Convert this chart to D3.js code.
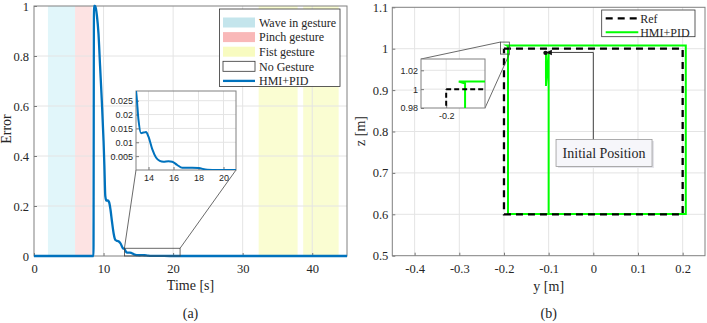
<!DOCTYPE html>
<html>
<head>
<meta charset="utf-8">
<script src="https://d3js.org/d3.v7.min.js"></script>
<style>
  body { margin: 0; background: #fff; }
  svg text { font-family: "Liberation Serif", "Times New Roman", serif; fill: #262626; }
  .tick text { font-size: 12.5px; }
  .inset .tick text { font-family: "Liberation Sans", Arial, sans-serif; font-size: 9px; }
  .tick line { stroke: #777; }
  .domain { display: none; }
</style>
</head>
<body>
<svg id="fig" width="707" height="323"></svg>
<script>
// panel (a) data: tracking error over time
const timeS = [0, 8.5, 8.55, 8.62, 8.75, 8.9, 9.05, 9.27, 9.5, 9.75, 10.0, 10.12, 10.25, 10.4, 10.6, 10.8, 11.0, 11.2, 11.45, 11.7, 12.0, 12.2, 12.45, 12.78, 13.0, 13.2, 13.4, 13.6, 13.8, 14.0, 14.3, 14.6, 14.9, 15.2, 15.6, 15.9, 16.3, 16.7, 17.5, 18.0, 18.7, 19.5, 45];
const errorHmi = [0, 0, 0, 1.0, 1.0, 0.99, 0.96, 0.89, 0.76, 0.62, 0.46, 0.36, 0.24, 0.222, 0.222, 0.215, 0.185, 0.14, 0.09, 0.064, 0.06, 0.058, 0.05, 0.031, 0.0285, 0.018, 0.0133, 0.0135, 0.0137, 0.012, 0.0075, 0.0045, 0.0033, 0.003, 0.0032, 0.003, 0.0018, 0.0008, 0.0008, 0.0007, 0.0001, 0, 0];
const waveSpans = [[2.0, 5.9]];
const pinchSpans = [[5.9, 8.3]];
const fistSpans = [[32.3, 37.9], [38.7, 43.8]];
const timeTicks = [0, 10, 20, 30, 40];
const errorTicks = [0, 0.2, 0.4, 0.6, 0.8, 1];
const zoomBoxA = { t: [13, 21], e: [0, 0.031] };
const insetTimeTicks = [14, 16, 18, 20];
const insetErrorTicks = [0.005, 0.01, 0.015, 0.02, 0.025];
const legendA = ["Wave in gesture", "Pinch gesture", "Fist gesture", "No Gesture", "HMI+PID"];

// panel (b) data: trajectory in the y-z plane
const refY = [-0.2, 0.2, 0.2, -0.2, -0.2];
const refZ = [1.0, 1.0, 0.6, 0.6, 1.0];
const hmiY = [-0.106, -0.106, -0.1, -0.1, 0.207, 0.207, -0.194, -0.191, -0.191, -0.1];
const hmiZ = [0.99, 0.91, 0.99, 0.601, 0.601, 1.008, 1.008, 1.006, 0.601, 0.601];
const yTicks = [-0.4, -0.3, -0.2, -0.1, 0, 0.1, 0.2];
const zTicks = [0.5, 0.6, 0.7, 0.8, 0.9, 1, 1.1];
const zoomBoxB = { y: [-0.208, -0.188], z: [0.987, 1.016] };
const insetZTicks = [0.98, 1, 1.02];
const insetYTicks = [-0.2];
const initPos = [-0.107, 0.99];
const arrowElbow = [0.0, 0.991];
const arrowTip = [-0.095, 0.991];
const labelCenter = [0.024, 0.747];
const legendB = ["Ref", "HMI+PID"];

const blue = "#0072BD", green = "#00FF00";
const svg = d3.select("#fig");
const fmt = d => String(+d.toFixed(3));

function gridAndBox(g, x, y, xt, yt) {
  const [x0, x1] = x.range(), [y0, y1] = y.range();
  g.append("g").selectAll("line").data(xt).join("line")
    .attr("x1", d => x(d)).attr("x2", d => x(d)).attr("y1", y0).attr("y2", y1)
    .attr("stroke", "#e4e4e4");
  g.append("g").selectAll("line").data(yt).join("line")
    .attr("y1", d => y(d)).attr("y2", d => y(d)).attr("x1", x0).attr("x2", x1)
    .attr("stroke", "#e4e4e4");
}
function axesFrame(g, x, y, xt, yt, pad) {
  const [x0, x1] = x.range(), [y0, y1] = y.range();
  g.append("g").attr("transform", `translate(0,${y0})`)
    .call(d3.axisBottom(x).tickValues(xt).tickFormat(fmt).tickSizeInner(-3).tickSizeOuter(0).tickPadding(pad[0]))
    .attr("font-family", null).attr("font-size", null);
  g.append("g").attr("transform", `translate(${x0},0)`)
    .call(d3.axisLeft(y).tickValues(yt).tickFormat(fmt).tickSizeInner(-3).tickSizeOuter(0).tickPadding(pad[1]))
    .attr("font-family", null).attr("font-size", null);
  g.append("rect").attr("x", x0).attr("y", y1).attr("width", x1 - x0).attr("height", y0 - y1)
    .attr("fill", "none").attr("stroke", "#808080").attr("stroke-width", 1);
}

// ---------------- panel (a) ----------------
const xA = d3.scaleLinear().domain([0, 45]).range([34, 347]);
const yA = d3.scaleLinear().domain([0, 1]).range([256, 6]);
const gA = svg.append("g");

const spanSets = [[waveSpans, "#c4e5ec", "#e1f6fa"], [pinchSpans, "#f9b8b8", "#fde3e3"], [fistSpans, "#f8fbc0", "#fafdd2"]];
spanSets.forEach(([spans, , fill]) => {
  gA.append("g").selectAll("rect").data(spans).join("rect")
    .attr("x", d => xA(d[0])).attr("width", d => xA(d[1]) - xA(d[0]))
    .attr("y", yA(1)).attr("height", yA(0) - yA(1)).attr("fill", fill);
});
gridAndBox(gA, xA, yA, timeTicks.slice(1), errorTicks.slice(1, -1));
axesFrame(gA, xA, yA, timeTicks, errorTicks, [8, 5]);

const series = timeS.map((t, i) => [t, errorHmi[i]]);
gA.append("path").datum(series)
  .attr("d", d3.line().x(d => xA(d[0])).y(d => yA(d[1])).curve(d3.curveMonotoneX))
  .attr("fill", "none").attr("stroke", blue).attr("stroke-width", 2.3);

// zoom box and connectors
const inA = { x: [136, 236], y: [170, 91] };
gA.append("rect").attr("x", xA(zoomBoxA.t[0])).attr("y", yA(zoomBoxA.e[1]))
  .attr("width", xA(zoomBoxA.t[1]) - xA(zoomBoxA.t[0])).attr("height", yA(zoomBoxA.e[0]) - yA(zoomBoxA.e[1]))
  .attr("fill", "none").attr("stroke", "#444").attr("stroke-width", 0.8);
[[zoomBoxA.t[0], inA.x[0]], [zoomBoxA.t[1], inA.x[1]]].forEach(([t, px]) => {
  gA.append("line").attr("x1", xA(t)).attr("y1", yA(zoomBoxA.e[1])).attr("x2", px).attr("y2", inA.y[0])
    .attr("stroke", "#444").attr("stroke-width", 0.8);
});

// inset (a)
const ixA = d3.scaleLinear().domain([13, 21]).range(inA.x);
const iyA = d3.scaleLinear().domain([0, 0.0285]).range(inA.y);
const giA = svg.append("g").attr("class", "inset");
giA.append("rect").attr("x", inA.x[0]).attr("y", inA.y[1]).attr("width", inA.x[1] - inA.x[0])
  .attr("height", inA.y[0] - inA.y[1]).attr("fill", "#fff");
gridAndBox(giA, ixA, iyA, insetTimeTicks, insetErrorTicks);
axesFrame(giA, ixA, iyA, insetTimeTicks, insetErrorTicks, [5, 3]);
giA.append("clipPath").attr("id", "clipA").append("rect")
  .attr("x", inA.x[0]).attr("y", inA.y[1]).attr("width", inA.x[1] - inA.x[0]).attr("height", inA.y[0] - inA.y[1]);
giA.append("path").datum(series.filter(d => d[0] >= 12.78 && d[0] <= 45))
  .attr("clip-path", "url(#clipA)")
  .attr("d", d3.line().x(d => ixA(d[0])).y(d => iyA(d[1])).curve(d3.curveMonotoneX))
  .attr("fill", "none").attr("stroke", blue).attr("stroke-width", 2);

// legend (a)
const lgA = svg.append("g").attr("transform", "translate(219.5,9)");
lgA.append("rect").attr("width", 120.5).attr("height", 77.5).attr("fill", "#fff").attr("stroke", "#333").attr("stroke-width", 0.8);
legendA.forEach((name, i) => {
  const cy = 13.5 + i * 14.6;
  if (i < 3) {
    lgA.append("rect").attr("x", 3.5).attr("y", cy - 5).attr("width", 32).attr("height", 10).attr("fill", spanSets[i][1]);
  } else if (i === 3) {
    lgA.append("rect").attr("x", 3.5).attr("y", cy - 5).attr("width", 32).attr("height", 10).attr("fill", "#fff").attr("stroke", "#333").attr("stroke-width", 0.8);
  } else {
    lgA.append("line").attr("x1", 3.5).attr("x2", 35.5).attr("y1", cy).attr("y2", cy).attr("stroke", blue).attr("stroke-width", 2.3);
  }
  lgA.append("text").attr("x", 39.5).attr("y", cy).attr("dy", "0.35em").attr("font-size", 12).text(name);
});

svg.append("text").attr("transform", "translate(11,129) rotate(-90)").attr("text-anchor", "middle").attr("font-size", 14).text("Error");
svg.append("text").attr("x", 190.5).attr("y", 290).attr("text-anchor", "middle").attr("font-size", 14).text("Time [s]");
svg.append("text").attr("x", 190.5).attr("y", 318).attr("text-anchor", "middle").attr("font-size", 14).text("(a)");

// ---------------- panel (b) ----------------
const xB = d3.scaleLinear().domain([-0.45, 0.25]).range([392.3, 705]);
const yB = d3.scaleLinear().domain([0.5, 1.1]).range([255.7, 7.3]);
const gB = svg.append("g");
gridAndBox(gB, xB, yB, yTicks, zTicks.slice(1, -1));
axesFrame(gB, xB, yB, yTicks, zTicks, [8, 4]);

const refPts = refY.map((v, i) => [v, refZ[i]]);
const hmiPts = hmiY.map((v, i) => [v, hmiZ[i]]);
const lineB = (x, y) => d3.line().x(d => x(d[0])).y(d => y(d[1]));
gB.append("path").datum(hmiPts).attr("d", lineB(xB, yB))
  .attr("fill", "none").attr("stroke", green).attr("stroke-width", 2);
gB.append("path").datum(refPts).attr("d", lineB(xB, yB))
  .attr("fill", "none").attr("stroke", "#000").attr("stroke-width", 2.3).attr("stroke-dasharray", "7,5");

// annotation: initial position
gB.append("circle").attr("cx", xB(initPos[0])).attr("cy", yB(initPos[1])).attr("r", 2.2).attr("fill", "#111");
gB.append("polyline")
  .attr("points", [[labelCenter[0] - 0.024, labelCenter[1]], arrowElbow, arrowTip].map(p => [xB(p[0]), yB(p[1])].join(",")).join(" "))
  .attr("fill", "none").attr("stroke", "#444").attr("stroke-width", 1);
const tx = xB(arrowTip[0]), ty = yB(arrowTip[1]);
gB.append("path").attr("d", `M${tx - 5},${ty}L${tx + 1},${ty - 2.8}L${tx + 1},${ty + 2.8}Z`).attr("fill", "#111");
const lcx = xB(labelCenter[0]), lcy = yB(labelCenter[1]);
gB.append("rect").attr("x", lcx - 46).attr("y", lcy - 12.5).attr("width", 96).attr("height", 27).attr("fill", "#e4e4ea");
gB.append("rect").attr("x", lcx - 48).attr("y", lcy - 14).attr("width", 96).attr("height", 27)
  .attr("fill", "#f6f6fa").attr("stroke", "#9a9a9a").attr("stroke-width", 0.8);
gB.append("text").attr("x", lcx).attr("y", lcy).attr("dy", "0.35em").attr("text-anchor", "middle").attr("font-size", 14).text("Initial Position");

// zoom box (b) and connectors
const inB = { x: [421, 485], y: [108, 59] };
const bx0 = xB(zoomBoxB.y[0]), bx1 = xB(zoomBoxB.y[1]), by0 = yB(zoomBoxB.z[1]), by1 = yB(zoomBoxB.z[0]);
gB.append("rect").attr("x", bx0).attr("y", by0).attr("width", bx1 - bx0).attr("height", by1 - by0)
  .attr("fill", "none").attr("stroke", "#444").attr("stroke-width", 0.8);
gB.append("line").attr("x1", bx0).attr("y1", by0).attr("x2", inB.x[0]).attr("y2", inB.y[1]).attr("stroke", "#444").attr("stroke-width", 0.8);
gB.append("line").attr("x1", bx1).attr("y1", by1).attr("x2", inB.x[1]).attr("y2", inB.y[0]).attr("stroke", "#444").attr("stroke-width", 0.8);

// inset (b)
const ixB = d3.scaleLinear().domain([-0.212, -0.1815]).range(inB.x);
const iyB = d3.scaleLinear().domain([0.98, 1.032]).range(inB.y);
const giB = svg.append("g").attr("class", "inset");
giB.append("rect").attr("x", inB.x[0]).attr("y", inB.y[1]).attr("width", inB.x[1] - inB.x[0])
  .attr("height", inB.y[0] - inB.y[1]).attr("fill", "#fff");
gridAndBox(giB, ixB, iyB, insetYTicks, insetZTicks.slice(1));
axesFrame(giB, ixB, iyB, insetYTicks, insetZTicks, [5, 3]);
giB.append("clipPath").attr("id", "clipB").append("rect")
  .attr("x", inB.x[0]).attr("y", inB.y[1]).attr("width", inB.x[1] - inB.x[0]).attr("height", inB.y[0] - inB.y[1]);
giB.append("path").datum(hmiPts).attr("d", lineB(ixB, iyB)).attr("clip-path", "url(#clipB)")
  .attr("fill", "none").attr("stroke", green).attr("stroke-width", 2);
giB.append("path").datum(refPts).attr("d", lineB(ixB, iyB)).attr("clip-path", "url(#clipB)")
  .attr("fill", "none").attr("stroke", "#000").attr("stroke-width", 2).attr("stroke-dasharray", "5,3");

// legend (b)
const lgB = svg.append("g").attr("transform", "translate(601.7,10)");
lgB.append("rect").attr("width", 93.3).attr("height", 26.7).attr("fill", "#fff").attr("stroke", "#333").attr("stroke-width", 0.8);
legendB.forEach((name, i) => {
  const cy = 8.3 + i * 14;
  lgB.append("line").attr("x1", 4).attr("x2", 36.6).attr("y1", cy).attr("y2", cy)
    .attr("stroke", i ? green : "#000").attr("stroke-width", i ? 2 : 2.3).attr("stroke-dasharray", i ? null : "7,5");
  lgB.append("text").attr("x", 38.5).attr("y", cy).attr("dy", "0.35em").attr("font-size", 12).text(name);
});

svg.append("text").attr("transform", "translate(365,131) rotate(-90)").attr("text-anchor", "middle").attr("font-size", 14).text("z [m]");
svg.append("text").attr("x", 548.7).attr("y", 291).attr("text-anchor", "middle").attr("font-size", 14).text("y [m]");
svg.append("text").attr("x", 548.7).attr("y", 318).attr("text-anchor", "middle").attr("font-size", 14).text("(b)");
</script>
</body>
</html>
